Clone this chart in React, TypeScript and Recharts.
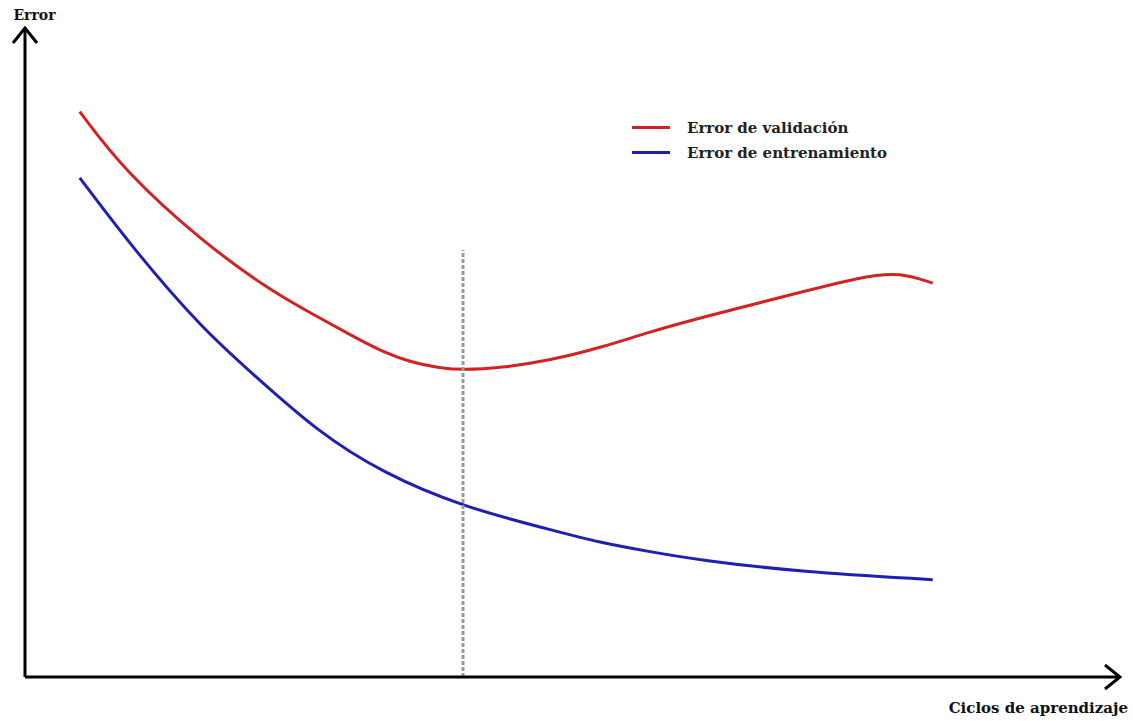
import React from "react";
import { LineChart, Line, XAxis, YAxis, ReferenceLine, Legend } from "recharts";

// ciclos (0-100) y error (0-100), leidos a ojo del dibujo
const ciclosValidacion = [5.0, 9.0, 16.3, 22.4, 25.1, 30.6, 32.7, 35.2, 37.9, 40.0, 43.4, 48.0, 52.5, 57.1, 61.6, 69.2, 76.9, 79.9, 82.9];
const errorValidacion = [87.1, 78.1, 66.9, 59.6, 57.0, 51.9, 50.1, 48.5, 47.6, 47.3, 47.6, 48.8, 50.7, 53.2, 55.3, 58.6, 61.9, 62.3, 60.7];

const ciclosEntrenamiento = [5.0, 10.2, 16.3, 20.6, 26.7, 32.7, 40.0, 48.0, 52.5, 57.1, 61.6, 70.8, 82.9];
const errorEntrenamiento = [76.9, 65.3, 53.5, 47.0, 37.8, 31.4, 26.2, 22.7, 20.7, 19.3, 18.0, 16.2, 15.0];

const parada = 40;
const paradaAlto = 65.8;

const ordenLeyenda = ["Error de validación", "Error de entrenamiento"];

const serif = "'DejaVu Serif', 'Liberation Serif', serif";

const validacion = ciclosValidacion.map((c, i) => ({ ciclo: c, error: errorValidacion[i] }));
const entrenamiento = ciclosEntrenamiento.map((c, i) => ({ ciclo: c, error: errorEntrenamiento[i] }));

function LegendBox(props: any) {
  const items = [...(props.payload || [])].sort(
    (a: any, b: any) => ordenLeyenda.indexOf(a.value) - ordenLeyenda.indexOf(b.value)
  );
  return (
    <div style={{ fontFamily: serif, fontWeight: "bold", fontSize: 15 }}>
      {items.map((it: any) => (
        <div key={it.value} style={{ display: "flex", alignItems: "center", height: 25 }}>
          <span style={{ display: "inline-block", width: 38, height: 3, background: it.color, marginRight: 17 }} />
          <span style={{ color: "#222" }}>{it.value}</span>
        </div>
      ))}
    </div>
  );
}

export default function App() {
  return (
    <div style={{ position: "absolute", left: 0, top: 0, width: 1133, height: 721, background: "#fff" }}>
      <svg width={0} height={0} style={{ position: "absolute" }}>
        <defs>
          <marker
            id="flecha"
            markerUnits="userSpaceOnUse"
            markerWidth={20}
            markerHeight={30}
            viewBox="0 0 20 30"
            refX={18}
            refY={15}
            orient="auto-start-reverse"
          >
            <path d="M3,3 L18,15 L3,27" fill="none" stroke="#000" strokeWidth={3} />
          </marker>
        </defs>
      </svg>
      <LineChart width={1133} height={721} margin={{ top: 28, right: 13, bottom: 0, left: 24 }}>
        <XAxis
          type="number"
          dataKey="ciclo"
          domain={[0, 100]}
          height={44}
          tick={false}
          tickLine={false}
          axisLine={{ stroke: "#000", strokeWidth: 3, markerEnd: "url(#flecha)" }}
          label={{
            value: "Ciclos de aprendizaje",
            position: "insideBottomRight",
            offset: 8,
            dx: 16,
            style: { fontFamily: serif, fontWeight: "bold", fontSize: 15, fill: "#111" },
          }}
        />
        <YAxis
          type="number"
          domain={[0, 100]}
          width={1}
          tick={false}
          tickLine={false}
          axisLine={{ stroke: "#000", strokeWidth: 3, markerStart: "url(#flecha)" }}
          label={{
            value: "Error",
            position: "top",
            offset: 8,
            dx: 10,
            style: { fontFamily: serif, fontWeight: "bold", fontSize: 14, fill: "#111" },
          }}
        />
        <Legend
          content={LegendBox}
          layout="vertical"
          align="center"
          verticalAlign="middle"
          wrapperStyle={{ position: "absolute", left: 632, top: 115, width: "auto" }}
        />
        <Line
          data={validacion}
          dataKey="error"
          name="Error de validación"
          type="basis"
          stroke="#d42222"
          strokeWidth={3}
          dot={false}
          isAnimationActive={false}
        />
        <Line
          data={entrenamiento}
          dataKey="error"
          name="Error de entrenamiento"
          type="basis"
          stroke="#1f1fb4"
          strokeWidth={3}
          dot={false}
          isAnimationActive={false}
        />
        <ReferenceLine
          segment={[{ x: parada, y: 0 }, { x: parada, y: paradaAlto }]}
          stroke="#9a9a9a"
          strokeWidth={3}
          strokeDasharray="4 2"
        />
      </LineChart>
    </div>
  );
}
